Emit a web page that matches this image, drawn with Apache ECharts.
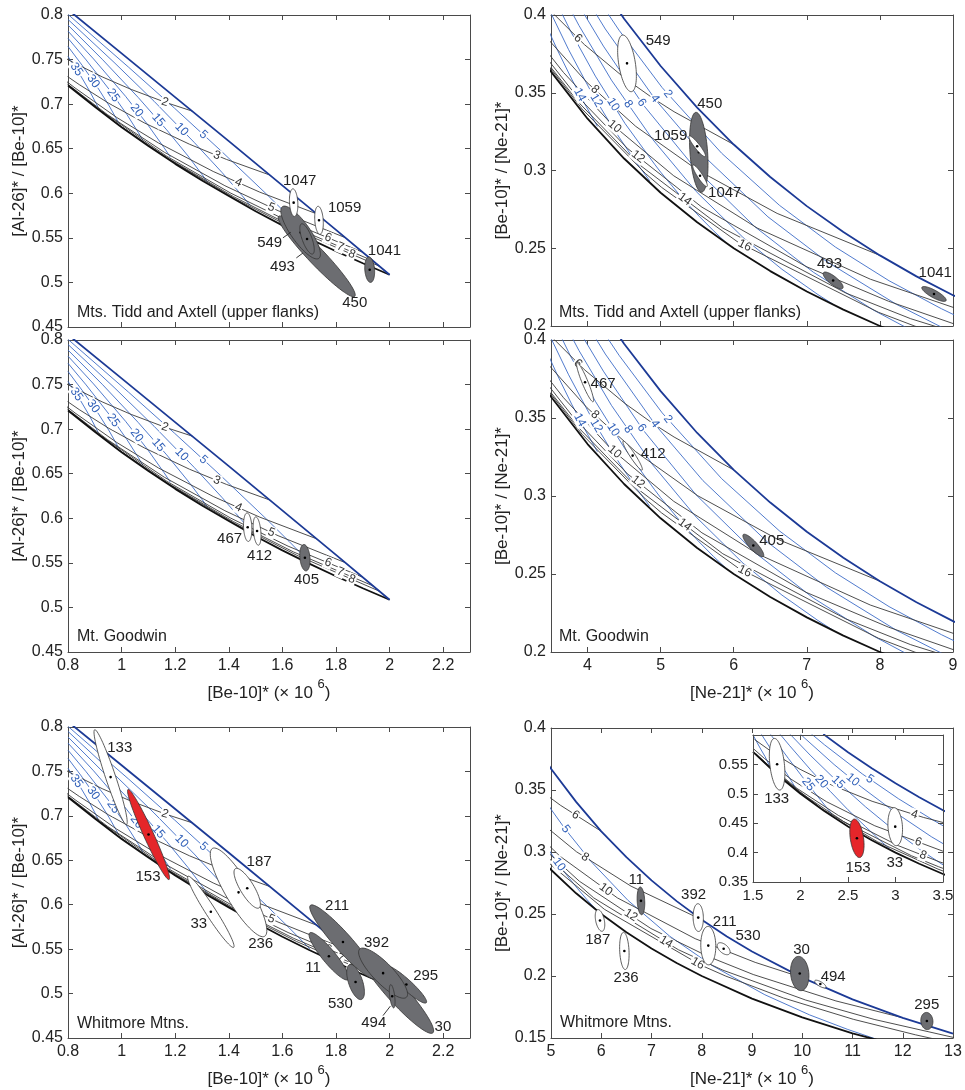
<!DOCTYPE html>
<html>
<head>
<meta charset="utf-8">
<script src="https://cdn.jsdelivr.net/npm/echarts@6/dist/echarts.min.js"></script>
<style>
  html, body { margin: 0; padding: 0; background: #fff; }
  #chart { width: 965px; height: 1090px; }
</style>
</head>
<body>
<div id="chart"></div>
<script>
// ---------- tick labels ----------
const abXTicks = [0.8, 1, 1.2, 1.4, 1.6, 1.8, 2, 2.2];
const abYTicks = [0.45, 0.5, 0.55, 0.6, 0.65, 0.7, 0.75, 0.8];
const neXTicks = [4, 5, 6, 7, 8, 9];
const neYTicks = [0.2, 0.25, 0.3, 0.35, 0.4];
const wbXTicks = [5, 6, 7, 8, 9, 10, 11, 12, 13];
const wbYTicks = [0.15, 0.2, 0.25, 0.3, 0.35, 0.4];
const inXTicks = [1.5, 2, 2.5, 3, 3.5];
const inYTicks = [0.35, 0.4, 0.45, 0.5, 0.55];

// ---------- Al/Be vs Be curves (left column) ----------
const abSimple = [[0.8, 0.806], [1.0, 0.757], [1.4, 0.6585], [1.8, 0.559], [2.0, 0.5086]];
const abErosion = [[0.8, 0.721], [0.9, 0.697], [1.0, 0.674], [1.1, 0.653], [1.2, 0.633], [1.3, 0.6143], [1.4, 0.597],
  [1.5, 0.5799], [1.6, 0.564], [1.7, 0.5491], [1.8, 0.535], [1.9, 0.5215], [2.0, 0.5086]];
// erosion-rate lines 5..35
const abEps5 = [[0.8, 0.8007], [1.0266, 0.7413], [1.1977, 0.6954], [1.3688, 0.6482], [1.5399, 0.5993], [1.6255, 0.5739], [1.6768, 0.5582], [1.7024, 0.5502]];
const abEps10 = [[0.8, 0.795], [0.9718, 0.7469], [1.1213, 0.7032], [1.2708, 0.6571], [1.3754, 0.6231], [1.4502, 0.5972], [1.48, 0.5864]];
const abEps15 = [[0.8, 0.7887], [0.9294, 0.7498], [1.0622, 0.7074], [1.1684, 0.6711], [1.248, 0.6418], [1.3011, 0.6207], [1.321, 0.6124]];
const abEps20 = [[0.8, 0.7819], [0.8954, 0.7507], [1.0148, 0.7088], [1.0984, 0.6766], [1.1581, 0.6513], [1.182, 0.6406]];
const abEps25 = [[0.8, 0.7739], [0.8677, 0.7496], [0.9544, 0.7162], [1.0195, 0.6885], [1.0629, 0.6679], [1.0792, 0.6595]];
const abEps30 = [[0.8, 0.7647], [0.8545, 0.7429], [0.9141, 0.717], [0.9539, 0.6979], [0.9787, 0.6846], [0.9896, 0.6784]];
const abEps35 = [[0.8, 0.7536], [0.8435, 0.7337], [0.8801, 0.715], [0.903, 0.702], [0.9131, 0.6959]];
// time lines 2..8 Myr
const abT2 = [[0.7823, 0.7529], [0.8084, 0.7485], [0.9274, 0.7306], [1.0358, 0.7165], [1.1647, 0.7019], [1.2642, 0.6921]];
const abT3 = [[0.7986, 0.7309], [0.842, 0.7219], [0.9502, 0.7013], [1.0846, 0.679], [1.2536, 0.655], [1.3912, 0.638], [1.5538, 0.6204]];
const abT4 = [[0.7946, 0.7255], [0.8265, 0.7181], [0.9817, 0.6851], [1.1372, 0.6565], [1.3417, 0.6245], [1.5155, 0.6013], [1.7293, 0.5768]];
const abT5 = [[0.7985, 0.7225], [0.9474, 0.6882], [1.1597, 0.646], [1.3854, 0.6085], [1.5837, 0.5805], [1.8358, 0.5501]];
const abT6 = [[0.7996, 0.7216], [0.9079, 0.6958], [1.1693, 0.6414], [1.4071, 0.6002], [1.6212, 0.5687], [1.9004, 0.5338]];
const abT7 = [[0.7996, 0.7215], [0.9804, 0.6786], [1.1734, 0.6393], [1.4179, 0.5962], [1.6417, 0.5622], [1.9396, 0.524]];
const abT8 = [[0.7996, 0.7215], [0.9804, 0.6786], [1.1755, 0.6382], [1.4233, 0.5939], [1.653, 0.5586], [1.9634, 0.518]];

// ---------- Be/Ne vs Ne curves (right column and inset) ----------
const neSimple = [[2.24, 0.6015], [2.5, 0.5708], [2.75, 0.5434], [3, 0.5179], [3.25, 0.4942], [3.5, 0.4721], [3.75, 0.4515],
  [4, 0.4323], [4.5, 0.3976], [5, 0.3672], [5.5, 0.3404], [6, 0.3167], [6.5, 0.2958], [7, 0.2771], [7.5, 0.2604],
  [8, 0.2454], [8.5, 0.2319], [9, 0.2198], [10, 0.1987], [11, 0.1811], [12, 0.1663], [13, 0.1536]];
const neErosion = [[1.5, 0.5714], [1.75, 0.5333], [2, 0.5], [2.25, 0.4706], [2.5, 0.4444], [2.75, 0.4211], [3, 0.4],
  [3.25, 0.381], [3.5, 0.3636], [4, 0.3333], [4.5, 0.3077], [5, 0.2857], [5.5, 0.2667], [6, 0.25], [6.5, 0.2353],
  [7, 0.2222], [7.5, 0.2105], [8, 0.2], [9, 0.1818], [10, 0.1667], [11, 0.1538], [12, 0.1429], [13, 0.1333]];
// time lines (Myr)
const neT4 = [[1.5155, 0.5925], [1.7294, 0.5677], [1.9953, 0.5417], [2.3293, 0.5148], [2.7535, 0.4873], [3.297, 0.4597], [3.625, 0.446], [4, 0.4323]];
const neT6 = [[1.5074, 0.5763], [1.6212, 0.56], [1.9004, 0.5249], [2.2733, 0.4866], [2.7823, 0.4456], [3.494, 0.4027],
  [3.956, 0.381], [4.512, 0.3593], [4.9, 0.3463], [5.184, 0.3378], [6, 0.3167]];
const neT8 = [[1.53, 0.5684], [1.653, 0.55], [1.9634, 0.5092], [2.398, 0.4633], [3.031, 0.4117], [3.4588, 0.3845],
  [3.9905, 0.3567], [4.659, 0.3284], [5.507, 0.3002], [6.594, 0.2724], [8, 0.2454]];
const neT10 = [[1.5362, 0.566], [1.9866, 0.5034], [2.454, 0.4528], [3.1673, 0.3947], [3.4548, 0.3759], [3.6716, 0.363],
  [4.3235, 0.3301], [5.179, 0.2966], [6.321, 0.263], [7.869, 0.2301], [9.063, 0.211], [10, 0.1987]];
const neT12 = [[1.5146, 0.5692], [1.6655, 0.5458], [2.2122, 0.4758], [2.814, 0.4181], [3.4475, 0.3719], [3.8008, 0.3508],
  [4.5465, 0.3142], [5.565, 0.2764], [6.988, 0.2383], [8.119, 0.2159], [9.024, 0.2012], [10.67, 0.1799], [12, 0.1663]];
const neT14 = [[3.5007, 0.3662], [3.8792, 0.3437], [4.696, 0.3042], [5.85, 0.263], [7.534, 0.2212], [8.421, 0.2047],
  [10.068, 0.1806], [11.43, 0.165], [13.06, 0.15]];
const neT16 = [[3.472, 0.3669], [3.9268, 0.3395], [4.796, 0.2979], [5.012, 0.2892], [6.062, 0.2538], [7.981, 0.2088],
  [8.479, 0.1999], [9.624, 0.1823], [11.014, 0.1651], [12.25, 0.1526], [12.707, 0.1485]];
// erosion-rate lines
const neM2 = [[4.174, 0.4082], [4.431, 0.3902], [5.021, 0.3533], [5.835, 0.3111], [6.626, 0.2776], [7.39, 0.2508], [8.125, 0.2291], [8.842, 0.2111], [9.049, 0.2064]];
const neM4 = [[3.88, 0.4188], [4.243, 0.391], [4.933, 0.3453], [5.578, 0.3099], [6.468, 0.2702], [7.27, 0.2415], [8.223, 0.214], [8.858, 0.1989]];
const neM5 = [[2.09, 0.6052], [2.2536, 0.5832], [2.6505, 0.5338], [3.0296, 0.4918], [3.3945, 0.4554], [3.5367, 0.4423],
  [3.9467, 0.4073], [4.399, 0.3734], [5.004, 0.3343], [5.286, 0.3183], [5.816, 0.2915], [6.534, 0.2609], [7.359, 0.2322],
  [8.213, 0.2083], [9.255, 0.1849], [10.148, 0.1686], [10.906, 0.1569], [11.443, 0.1495]];
const neM6 = [[3.615, 0.4293], [3.923, 0.403], [4.217, 0.38], [4.762, 0.3422], [5.482, 0.3009], [6.287, 0.2639], [7.089, 0.2346], [7.921, 0.21], [8.432, 0.1972]];
const neM8 = [[3.635, 0.4151], [3.882, 0.3933], [4.327, 0.3581], [4.891, 0.32], [5.486, 0.2865], [6.126, 0.257], [6.659, 0.2365], [7.152, 0.2202], [7.372, 0.2136]];
const neM10 = [[1.906, 0.616], [2.0397, 0.5953], [2.3537, 0.5498], [2.6428, 0.5113], [3.0083, 0.4671], [3.3768, 0.4271],
  [3.7725, 0.3892], [4.107, 0.3607], [4.513, 0.3302], [4.918, 0.304], [4.999, 0.299], [5.264, 0.284], [5.367, 0.2786],
  [5.526, 0.2706], [5.722, 0.2613], [5.887, 0.254]];
const neM12 = [[3.4725, 0.4038], [3.741, 0.3777], [4.055, 0.3501], [4.348, 0.3273], [4.647, 0.3063], [4.851, 0.2934]];
const neM14 = [[3.4225, 0.3945], [3.5926, 0.377], [3.7834, 0.3588], [3.983, 0.341], [4.135, 0.3284]];
const neM15 = [[1.852, 0.6078], [2.1015, 0.5658], [2.4017, 0.5187], [2.6856, 0.4777], [2.9684, 0.4401], [3.2784, 0.4029], [3.545, 0.3743]];
const neM20 = [[1.6884, 0.62], [1.8863, 0.5817], [2.1126, 0.5396], [2.3137, 0.5041], [2.4994, 0.4729], [2.6834, 0.4444], [2.8608, 0.4173], [2.9359, 0.4067]];
const neM25 = [[1.5445, 0.6322], [1.7014, 0.5974], [1.8725, 0.5601], [2.0149, 0.5298], [2.137, 0.5044], [2.2462, 0.4824], [2.3348, 0.4645]];
const neM30 = [[1.5425, 0.6128], [1.6714, 0.5802], [1.7725, 0.5545], [1.8529, 0.5351], [1.9177, 0.5181], [1.9623, 0.5063]];
const neM35 = [[1.5024, 0.5994], [1.5741, 0.578], [1.627, 0.5632], [1.6655, 0.5504], [1.688, 0.543]];

// ---------- samples: [cx, cy, axis-tip x, axis-tip y, minor/major, fill 0 white 1 grey 2 red] ----------
const tlEllipses = [
  [1.728, 0.5293, 1.586, 0.5742, 0.15, 1],   // 450
  [1.668, 0.556, 1.600, 0.585, 0.3, 1],      // 549
  [1.692, 0.5488, 1.671, 0.5657, 0.3, 1],    // 493
  [1.642, 0.5895, 1.639, 0.605, 0.3, 0],     // 1047
  [1.7366, 0.5697, 1.733, 0.5854, 0.3, 0],   // 1059
  [1.9257, 0.5143, 1.922, 0.5286, 0.38, 1]   // 1041
];
const trEllipses = [
  [4.54, 0.3689, 4.478, 0.3871, 0.29, 0],    // 549
  [5.522, 0.3117, 5.483, 0.3374, 0.22, 1],   // 450
  [5.50, 0.3156, 5.39, 0.3222, 0.2, 0],      // 1059
  [5.539, 0.2966, 5.443, 0.3035, 0.2, 0],    // 1047
  [7.36, 0.2293, 7.228, 0.2343, 0.33, 1],    // 493
  [8.74, 0.2206, 8.575, 0.2249, 0.27, 1]     // 1041
];
const mlEllipses = [
  [1.4705, 0.590, 1.468, 0.606, 0.29, 0],    // 467
  [1.5055, 0.5857, 1.5004, 0.6016, 0.26, 0], // 412
  [1.684, 0.5558, 1.6795, 0.5706, 0.38, 1]   // 405
];
const mrEllipses = [
  [3.966, 0.3729, 3.856, 0.3854, 0.14, 0],   // 467
  [4.617, 0.3259, 4.487, 0.3352, 0.15, 0],   // 412
  [6.268, 0.2683, 6.131, 0.2753, 0.27, 1]    // 405
];
const blEllipses = [
  [0.959, 0.7436, 0.8996, 0.797, 0.1, 0],    // 133
  [1.1005, 0.679, 1.0239, 0.7297, 0.1, 2],   // 153
  [1.333, 0.592, 1.2478, 0.632, 0.12, 0],    // 33
  [1.4364, 0.6139, 1.3388, 0.6633, 0.245, 0],// 236
  [1.4687, 0.6185, 1.4246, 0.6406, 0.3, 0],  // 187
  [2.025, 0.5017, 1.8884, 0.5476, 0.18, 1],  // 30
  [2.0625, 0.5102, 1.988, 0.5307, 0.19, 1],  // 295
  [1.826, 0.5581, 1.7045, 0.5993, 0.18, 1],  // 211
  [1.9757, 0.523, 1.8884, 0.5501, 0.3, 1],   // 392
  [1.7735, 0.542, 1.7019, 0.5683, 0.22, 1],  // 11
  [1.873, 0.513, 1.851, 0.5326, 0.38, 1],    // 530
  [2.0097, 0.497, 2.0041, 0.5101, 0.21, 1]   // 494
];
const brEllipses = [
  [6.79, 0.2606, 6.776, 0.2718, 0.27, 1],    // 11
  [5.975, 0.2448, 5.93, 0.2535, 0.39, 0],    // 187
  [6.46, 0.2202, 6.442, 0.2352, 0.25, 0],    // 236
  [7.93, 0.2471, 7.923, 0.2583, 0.37, 0],    // 392
  [8.13, 0.2245, 8.123, 0.24, 0.39, 0],      // 211
  [8.436, 0.222, 8.32, 0.2261, 0.55, 0],     // 530
  [9.95, 0.202, 9.917, 0.2158, 0.53, 1],     // 30
  [10.36, 0.1935, 10.25, 0.1962, 0.35, 0],   // 494
  [12.48, 0.1637, 12.463, 0.1706, 0.7, 1]    // 295
];
const inEllipses = [
  [1.7537, 0.5503, 1.7238, 0.5942, 0.28, 0], // 133
  [2.594, 0.4243, 2.564, 0.457, 0.34, 2],    // 153
  [2.997, 0.4441, 2.984, 0.4764, 0.38, 0]    // 33
];

// ---------- sample names ----------
const tlNames = [[1.6646, 0.6135, '1047'], [1.832, 0.5836, '1059'], [1.981, 0.535, '1041'], [1.870, 0.477, '450'], [1.5526, 0.5443, '549'], [1.600, 0.518, '493']];
const trNames = [[4.966, 0.3835, '549'], [5.672, 0.3428, '450'], [5.136, 0.3222, '1059'], [5.877, 0.2853, '1047'], [7.31, 0.2399, '493'], [8.757, 0.2339, '1041']];
const mlNames = [[1.403, 0.5773, '467'], [1.515, 0.5574, '412'], [1.690, 0.5312, '405']];
const mrNames = [[4.213, 0.3717, '467'], [4.898, 0.3267, '412'], [6.52, 0.271, '405']];
const blNames = [[0.993, 0.777, '133'], [1.0985, 0.6308, '153'], [1.513, 0.6477, '187'], [1.288, 0.5784, '33'], [1.519, 0.556, '236'],
  [1.804, 0.5982, '211'], [1.951, 0.557, '392'], [1.714, 0.5289, '11'], [2.1347, 0.5202, '295'], [1.8165, 0.4884, '530'],
  [1.9407, 0.467, '494'], [2.199, 0.4621, '30']];
const brNames = [[6.695, 0.2777, '11'], [7.837, 0.2656, '392'], [8.456, 0.244, '211'], [8.92, 0.2327, '530'], [5.93, 0.2293, '187'],
  [6.495, 0.1989, '236'], [9.985, 0.2212, '30'], [10.615, 0.1997, '494'], [12.477, 0.1769, '295']];
const inNames = [[1.749, 0.4922, '133'], [2.606, 0.3733, '153'], [2.992, 0.3818, '33']];
const tlLeaders = [[1.602, 0.55, 1.631, 0.5562], [1.652, 0.5275, 1.677, 0.5331]];
const blLeaders = [[1.9754, 0.4752, 2.0029, 0.4859]];

// ---------- contour labels: [x, y, text, angle, 0 blue / 1 black] ----------
const abContour = [
  [1.305, 0.6656, '5', -42, 0], [1.224, 0.6715, '10', -46, 0], [1.137, 0.682, '15', -49, 0], [1.056, 0.693, '20', -52, 0],
  [0.969, 0.710, '25', -55, 0], [0.894, 0.7255, '30', -55, 0], [0.832, 0.739, '35', -56, 0],
  [1.162, 0.7022, '2', -18, 1], [1.355, 0.6425, '3', -22, 1], [1.4355, 0.612, '4', -24, 1], [1.559, 0.584, '5', -22, 1],
  [1.77, 0.5501, '6', -22, 1], [1.816, 0.5398, '7', -22, 1], [1.859, 0.5317, '8', -22, 1]
];
const neContour = [
  [5.10, 0.3492, '2', -53, 0], [4.92, 0.3462, '4', -55, 0], [4.74, 0.3436, '6', -56, 0], [4.555, 0.3427, '8', -55, 0],
  [4.35, 0.3424, '10', -58, 0], [4.12, 0.345, '12', -59, 0], [3.893, 0.3487, '14', -62, 0],
  [3.87, 0.385, '6', -45, 1], [4.1, 0.352, '8', -42, 1], [4.37, 0.3283, '10', -40, 1], [4.69, 0.3089, '12', -38, 1],
  [5.33, 0.2815, '14', -37, 1], [6.15, 0.2517, '16', -27, 1]
];
const wbContour = [
  [5.49, 0.3299, '6', -33, 1], [5.68, 0.2958, '8', -32, 1], [6.09, 0.2698, '10', -36, 1], [6.59, 0.249, '12', -33, 1],
  [7.29, 0.2273, '14', -31, 1], [7.92, 0.2102, '16', -30, 1], [5.29, 0.3185, '5', -52, 0], [5.16, 0.2899, '10', -54, 0]
];
const inContour = [
  [2.73, 0.525, '5', -34, 0], [2.55, 0.5237, '10', -40, 0], [2.396, 0.5196, '15', -44, 0], [2.22, 0.5206, '20', -48, 0],
  [2.08, 0.516, '25', -52, 0], [3.2, 0.4646, '4', -17, 1], [3.24, 0.418, '6', -20, 1], [3.29, 0.3952, '8', -21, 1]
];

// ---------- drawing ----------
const FONT = '"Liberation Sans", Arial, Helvetica, sans-serif';
const AXIS_COLOR = '#4a4a4a';
const BLUE_THICK = '#1c3a96', BLUE = '#3d6cc7', BLACK = '#3a3a3a', BLACK_THICK = '#111';
const FILLS = ['#ffffff', '#6c6d71', '#e5262a'];

const chart = echarts.init(document.getElementById('chart'));

const beName = '{a|[Be-10]* (× 10 }{s|6}{a|)}';
const neName = '{a|[Ne-21]* (× 10 }{s|6}{a|)}';
const nameRich = {
  a: { fontSize: 17, fontFamily: FONT, color: '#222', lineHeight: 24, verticalAlign: 'bottom' },
  s: { fontSize: 13, fontFamily: FONT, color: '#222', lineHeight: 24, verticalAlign: 'top' }
};

const panels = [
  { grid: { left: 68, top: 15, width: 402, height: 312 }, x: [0.8, 2.3], y: [0.45, 0.8], xt: abXTicks, yt: abYTicks, showX: false, xName: '', yName: '[Al-26]* / [Be-10]*', yGap: 38 },
  { grid: { left: 551, top: 15, width: 402, height: 311 }, x: [3.5, 9], y: [0.2, 0.4], xt: neXTicks, yt: neYTicks, showX: false, xName: '', yName: '[Be-10]* / [Ne-21]*', yGap: 36 },
  { grid: { left: 68, top: 340, width: 402, height: 312 }, x: [0.8, 2.3], y: [0.45, 0.8], xt: abXTicks, yt: abYTicks, showX: true, xName: beName, yName: '[Al-26]* / [Be-10]*', yGap: 38 },
  { grid: { left: 551, top: 340, width: 402, height: 312 }, x: [3.5, 9], y: [0.2, 0.4], xt: neXTicks, yt: neYTicks, showX: true, xName: neName, yName: '[Be-10]* / [Ne-21]*', yGap: 36 },
  { grid: { left: 68, top: 727, width: 402, height: 311 }, x: [0.8, 2.3], y: [0.45, 0.8], xt: abXTicks, yt: abYTicks, showX: true, xName: beName, yName: '[Al-26]* / [Be-10]*', yGap: 38 },
  { grid: { left: 551, top: 728, width: 402, height: 310 }, x: [5, 13], y: [0.15, 0.4], xt: wbXTicks, yt: wbYTicks, showX: true, xName: neName, yName: '[Be-10]* / [Ne-21]*', yGap: 36 },
  { grid: { left: 753, top: 735, width: 190, height: 147 }, x: [1.5, 3.5], y: [0.35, 0.6], xt: inXTicks, yt: inYTicks, showX: true, xName: '', yName: '', yGap: 30, inset: true }
];

const grids = [], xAxes = [], yAxes = [];
panels.forEach((p, i) => {
  const z = p.inset ? 25 : 0;
  const fs = p.inset ? 15 : 16;
  grids.push(Object.assign({ containLabel: false, show: false }, p.grid));
  const line = { show: true, onZero: false, lineStyle: { color: AXIS_COLOR, width: 1 } };
  const tick = (vals) => ({ show: true, inside: true, length: 5, customValues: vals, lineStyle: { color: AXIS_COLOR, width: 1 } });
  xAxes.push({
    type: 'value', gridIndex: i, position: 'bottom', min: p.x[0], max: p.x[1], z,
    axisLine: line, axisTick: tick(p.xt), splitLine: { show: false },
    axisLabel: { show: p.showX, customValues: p.xt, margin: 6, fontSize: fs, color: '#222', fontFamily: FONT },
    name: p.xName, nameLocation: 'middle', nameGap: 26, nameTextStyle: { rich: nameRich }
  });
  xAxes.push({
    type: 'value', gridIndex: i, position: 'top', min: p.x[0], max: p.x[1], z,
    axisLine: line, axisTick: tick(p.xt), splitLine: { show: false }, axisLabel: { show: false }
  });
  yAxes.push({
    type: 'value', gridIndex: i, position: 'left', min: p.y[0], max: p.y[1], z,
    axisLine: line, axisTick: tick(p.yt), splitLine: { show: false },
    axisLabel: { show: true, customValues: p.yt, margin: 5, fontSize: fs, color: '#222', fontFamily: FONT },
    name: p.yName, nameLocation: 'middle', nameGap: p.yGap, nameRotate: 90,
    nameTextStyle: { fontSize: 17, color: '#222', fontFamily: FONT }
  });
  yAxes.push({
    type: 'value', gridIndex: i, position: 'right', min: p.y[0], max: p.y[1], z,
    axisLine: line, axisTick: tick(p.yt), splitLine: { show: false }, axisLabel: { show: false }
  });
});

const series = [];
function curve(gi, data, color, width, z) {
  series.push({
    type: 'line', xAxisIndex: 2 * gi, yAxisIndex: 2 * gi, data, smooth: false,
    symbol: 'none', silent: true, clip: true, z, lineStyle: { color, width }
  });
}
function ellipses(gi, items, z) {
  series.push({
    type: 'custom', coordinateSystem: 'cartesian2d', xAxisIndex: 2 * gi, yAxisIndex: 2 * gi, z, silent: true,
    data: items,
    renderItem(params, api) {
      const c = api.coord([api.value(0), api.value(1)]);
      const t = api.coord([api.value(2), api.value(3)]);
      const dx = t[0] - c[0], dy = t[1] - c[1];
      const a = Math.hypot(dx, dy), b = a * api.value(4);
      const ux = dx / a, uy = dy / a;
      const pts = [];
      for (let k = 0; k < 72; k++) {
        const th = k / 72 * Math.PI * 2;
        const p = a * Math.cos(th), q = b * Math.sin(th);
        pts.push([c[0] + p * ux - q * uy, c[1] + p * uy + q * ux]);
      }
      return {
        type: 'group', children: [
          { type: 'polygon', shape: { points: pts }, style: { fill: FILLS[api.value(5)], stroke: '#333', lineWidth: 0.8 } },
          { type: 'circle', shape: { cx: c[0], cy: c[1], r: 1.3 }, style: { fill: '#000' } }
        ]
      };
    }
  });
}
function texts(gi, items, z, fontSize) {
  series.push({
    type: 'custom', coordinateSystem: 'cartesian2d', xAxisIndex: 2 * gi, yAxisIndex: 2 * gi, z, silent: true,
    data: items.map(d => [d[0], d[1]]),
    renderItem(params, api) {
      const it = items[params.dataIndex];
      const p = api.coord([it[0], it[1]]);
      return { type: 'text', x: p[0], y: p[1],
        style: { text: it[2], fontSize, fontFamily: FONT, fill: '#222', align: 'center', verticalAlign: 'middle' } };
    }
  });
}
function contour(gi, items, z) {
  series.push({
    type: 'custom', coordinateSystem: 'cartesian2d', xAxisIndex: 2 * gi, yAxisIndex: 2 * gi, z, silent: true,
    data: items.map(d => [d[0], d[1]]),
    renderItem(params, api) {
      const it = items[params.dataIndex];
      const p = api.coord([it[0], it[1]]);
      return { type: 'text', x: p[0], y: p[1], rotation: it[3] * Math.PI / 180,
        style: { text: it[2], fontSize: 12, fontFamily: FONT, fill: it[4] ? '#333' : '#2f5fb8',
          align: 'center', verticalAlign: 'middle', backgroundColor: '#fff', padding: [0, 1] } };
    }
  });
}
function leaders(gi, items, z) {
  series.push({
    type: 'custom', coordinateSystem: 'cartesian2d', xAxisIndex: 2 * gi, yAxisIndex: 2 * gi, z, silent: true,
    data: items,
    renderItem(params, api) {
      const a = api.coord([api.value(0), api.value(1)]);
      const b = api.coord([api.value(2), api.value(3)]);
      return { type: 'line', shape: { x1: a[0], y1: a[1], x2: b[0], y2: b[1] }, style: { stroke: '#222', lineWidth: 0.9 } };
    }
  });
}

function abBackground(gi) {
  [abEps5, abEps10, abEps15, abEps20, abEps25, abEps30, abEps35].forEach(d => curve(gi, d, BLUE, 0.9, 2));
  [abT2, abT3, abT4, abT5, abT6, abT7, abT8].forEach(d => curve(gi, d, BLACK, 0.9, 2));
  curve(gi, abErosion, BLACK_THICK, 1.8, 3);
  curve(gi, abSimple, BLUE_THICK, 1.8, 3);
  contour(gi, abContour, 4);
}
function neBackground(gi, blues, blacks, labels, zBase) {
  blues.forEach(d => curve(gi, d, BLUE, 0.9, zBase));
  blacks.forEach(d => curve(gi, d, BLACK, 0.9, zBase));
  curve(gi, neErosion, BLACK_THICK, 1.8, zBase + 1);
  curve(gi, neSimple, BLUE_THICK, 1.8, zBase + 1);
  contour(gi, labels, zBase + 2);
}

// left column
[0, 2, 4].forEach(abBackground);
ellipses(0, tlEllipses, 5); leaders(0, tlLeaders, 6); texts(0, tlNames, 6, 15);
ellipses(2, mlEllipses, 5); texts(2, mlNames, 6, 15);
ellipses(4, blEllipses, 5); leaders(4, blLeaders, 6); texts(4, blNames, 6, 15);

// right column
const rightBlues = [neM2, neM4, neM6, neM8, neM10, neM12, neM14];
const rightBlacks = [neT6, neT8, neT10, neT12, neT14, neT16];
neBackground(1, rightBlues, rightBlacks, neContour, 2);
neBackground(3, rightBlues, rightBlacks, neContour, 2);
ellipses(1, trEllipses, 5); texts(1, trNames, 6, 15);
ellipses(3, mrEllipses, 5); texts(3, mrNames, 6, 15);
neBackground(5, [neM5, neM10], rightBlacks, wbContour, 2);
ellipses(5, brEllipses, 5); texts(5, brNames, 6, 15);

// inset
neBackground(6, [neM5, neM10, neM15, neM20, neM25, neM30, neM35], [neT4, neT6, neT8, neT10, neT12], inContour, 21);
ellipses(6, inEllipses, 24); texts(6, inNames, 24, 15);

const siteText = (x, y, text) => ({ type: 'text', x, y, z: 10,
  style: { text, fontSize: 16, fontFamily: FONT, fill: '#222', verticalAlign: 'middle' } });

const option = {
  animation: false,
  backgroundColor: '#fff',
  textStyle: { fontFamily: FONT },
  grid: grids,
  xAxis: xAxes,
  yAxis: yAxes,
  series,
  graphic: [
    siteText(77, 313, 'Mts. Tidd and Axtell (upper flanks)'),
    siteText(559, 313, 'Mts. Tidd and Axtell (upper flanks)'),
    siteText(77, 637, 'Mt. Goodwin'),
    siteText(559, 637, 'Mt. Goodwin'),
    siteText(77, 1024, 'Whitmore Mtns.'),
    siteText(560, 1023, 'Whitmore Mtns.'),
    { type: 'rect', z: 20, shape: { x: 753, y: 735, width: 190, height: 147 }, style: { fill: '#fff' } }
  ]
};
chart.setOption(option);
</script>
</body>
</html>
